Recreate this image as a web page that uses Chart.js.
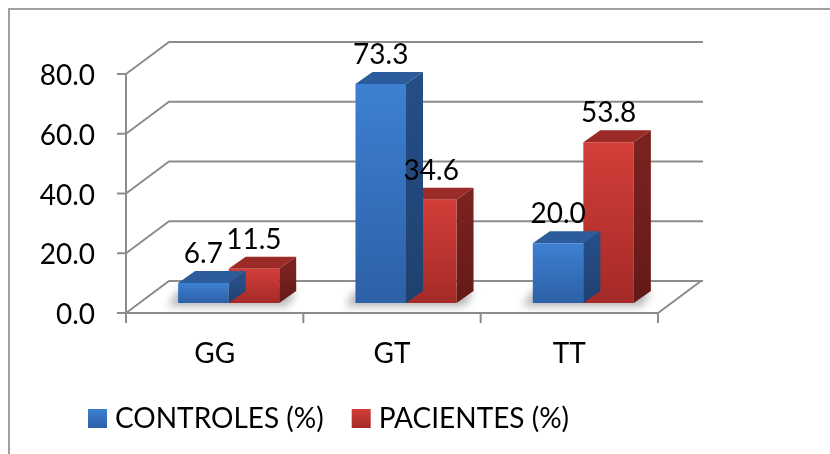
<!DOCTYPE html>
<html>
<head>
<meta charset="utf-8">
<script src="https://cdn.jsdelivr.net/npm/chart.js@4"></script>
<style>
  html, body { margin: 0; padding: 0; background: #fff; }
  #chart { display: block; }
</style>
</head>
<body>
<canvas id="chart" width="830" height="454"></canvas>
<script>
// values
const categories = ['GG', 'GT', 'TT'];
const controles = [6.7, 73.3, 20.0];
const pacientes = [11.5, 34.6, 53.8];
const yTicks = [0, 20, 40, 60, 80];
const seriesNames = ['CONTROLES (%)', 'PACIENTES (%)'];

// colours: front top, front bottom, top face, side face
const blue = ['#3d80d2', '#2d60a6', '#2c5c9c', '#254e86'];
const red = ['#d33e39', '#a42a27', '#9c2b28', '#7a2220'];
const gridColor = '#8c8c8c';
const FONT = '28px Lato';

// 3D offsets (px): back wall, plane of the bars, bar depth
const WALL = { dx: 43, dy: -32 };
const PLANE = { dx: 14, dy: -10 };
const DEPTH = { dx: 17, dy: -12 };

function frontGradient(colors) {
  return c => {
    const chart = c.chart;
    if (!chart.chartArea) return colors[0];
    const y = chart.scales.y;
    const g = chart.ctx.createLinearGradient(0, y.getPixelForValue(c.raw), 0, y.getPixelForValue(0));
    g.addColorStop(0, colors[0]);
    g.addColorStop(1, colors[1]);
    return g;
  };
}

function poly(ctx, pts, fill) {
  ctx.beginPath();
  ctx.moveTo(pts[0][0], pts[0][1]);
  pts.slice(1).forEach(p => ctx.lineTo(p[0], p[1]));
  ctx.closePath();
  ctx.fillStyle = fill;
  ctx.fill();
}

const palette = [blue, red];

const box3d = {
  id: 'box3d',
  beforeDraw(chart) {
    const ctx = chart.ctx;
    const { left, right, top, bottom } = chart.chartArea;
    const x = chart.scales.x;
    const y = chart.scales.y;
    ctx.save();

    // outer frame
    ctx.strokeStyle = '#a0a0a0';
    ctx.lineWidth = 2;
    ctx.beginPath();
    ctx.moveTo(9, 454);
    ctx.lineTo(9, 9);
    ctx.lineTo(830, 9);
    ctx.stroke();

    // side wall diagonals + back wall gridlines
    ctx.strokeStyle = gridColor;
    ctx.lineWidth = 2;
    yTicks.forEach(v => {
      const yf = y.getPixelForValue(v);
      ctx.beginPath();
      ctx.moveTo(left, yf);
      ctx.lineTo(left + WALL.dx, yf + WALL.dy);
      ctx.lineTo(right + WALL.dx + 2, yf + WALL.dy);
      ctx.stroke();
      ctx.beginPath();
      ctx.moveTo(left - 9, yf);
      ctx.lineTo(left, yf);
      ctx.stroke();
    });

    // floor edges and axis
    ctx.beginPath();
    ctx.moveTo(left, top);
    ctx.lineTo(left, bottom + 10);
    ctx.moveTo(left, bottom);
    ctx.lineTo(right, bottom);
    ctx.lineTo(right + WALL.dx, bottom + WALL.dy);
    ctx.stroke();

    const catW = x.getPixelForValue(1) - x.getPixelForValue(0);
    for (let i = 0; i <= categories.length; i++) {
      const xb = x.getPixelForValue(0) - catW / 2 + i * catW;
      ctx.beginPath();
      ctx.moveTo(xb, bottom);
      ctx.lineTo(xb, bottom + 10);
      ctx.stroke();
    }

    // tick labels
    ctx.fillStyle = '#000';
    ctx.font = FONT;
    ctx.textAlign = 'right';
    ctx.textBaseline = 'middle';
    yTicks.forEach(v => ctx.fillText(v.toFixed(1), 95, y.getPixelForValue(v) + 2));

    // category labels
    ctx.textAlign = 'center';
    categories.forEach((c, i) => ctx.fillText(c, x.getPixelForValue(i), bottom + 41));

    // legend
    ctx.textAlign = 'left';
    let lx = 88;
    seriesNames.forEach((name, i) => {
      const g = ctx.createLinearGradient(0, 409, 0, 428);
      g.addColorStop(0, palette[i][0]);
      g.addColorStop(1, palette[i][1]);
      ctx.fillStyle = g;
      ctx.fillRect(lx, 409, 19, 19);
      ctx.fillStyle = '#000';
      ctx.fillText(name, lx + 27, 419);
      lx += 27 + ctx.measureText(name).width + 28;
    });
    ctx.restore();
  },
  beforeDatasetsDraw(chart) {
    const ctx = chart.ctx;
    ctx.save();
    ctx.translate(PLANE.dx, PLANE.dy);

    // soft shadow on the floor under each pair of bars
    const m0 = chart.getDatasetMeta(0).data;
    const m1 = chart.getDatasetMeta(1).data;
    ctx.save();
    ctx.filter = 'blur(4px)';
    ctx.fillStyle = 'rgba(0,0,0,0.3)';
    m0.forEach((b, i) => {
      const l = b.x - b.width / 2;
      const r = m1[i].x + m1[i].width / 2;
      ctx.beginPath();
      ctx.moveTo(l - 10, b.base + 3);
      ctx.lineTo(r + 8, b.base + 3);
      ctx.lineTo(r + DEPTH.dx, b.base + DEPTH.dy);
      ctx.lineTo(l, b.base + DEPTH.dy);
      ctx.closePath();
      ctx.fill();
    });
    ctx.restore();
  },
  beforeDatasetDraw(chart, args) {
    const ctx = chart.ctx;
    const cols = palette[args.index];
    chart.getDatasetMeta(args.index).data.forEach(b => {
      const l = b.x - b.width / 2;
      const r = b.x + b.width / 2;
      poly(ctx, [[l, b.y], [l + DEPTH.dx, b.y + DEPTH.dy], [r + DEPTH.dx, b.y + DEPTH.dy], [r, b.y]], cols[2]);
      const sg = ctx.createLinearGradient(0, b.y, 0, b.base);
      sg.addColorStop(0, cols[3]);
      sg.addColorStop(1, args.index === 0 ? '#1f416f' : '#641a18');
      poly(ctx, [[r, b.y], [r + DEPTH.dx, b.y + DEPTH.dy], [r + DEPTH.dx, b.base + DEPTH.dy], [r, b.base]], sg);
    });
  },
  afterDatasetsDraw(chart) {
    const ctx = chart.ctx;
    ctx.fillStyle = '#000';
    ctx.font = FONT;
    ctx.textAlign = 'center';
    ctx.textBaseline = 'middle';
    chart.data.datasets.forEach((ds, di) => {
      chart.getDatasetMeta(di).data.forEach((b, i) => {
        ctx.fillText(ds.data[i].toFixed(1), b.x, b.y - 29);
      });
    });
    ctx.restore();
  }
};

new Chart(document.getElementById('chart'), {
  type: 'bar',
  data: {
    labels: categories,
    datasets: [
      { label: seriesNames[0], data: controles, backgroundColor: frontGradient(blue) },
      { label: seriesNames[1], data: pacientes, backgroundColor: frontGradient(red) }
    ]
  },
  options: {
    responsive: false,
    animation: false,
    devicePixelRatio: 1,
    layout: { padding: { left: 126, right: 172, top: 74, bottom: 141 } },
    datasets: { bar: { categoryPercentage: 0.57, barPercentage: 1.0 } },
    plugins: { legend: { display: false }, tooltip: { enabled: false } },
    scales: {
      x: { display: false, offset: true },
      y: { display: false, min: 0, max: 80 }
    }
  },
  plugins: [box3d]
});
</script>
</body>
</html>
